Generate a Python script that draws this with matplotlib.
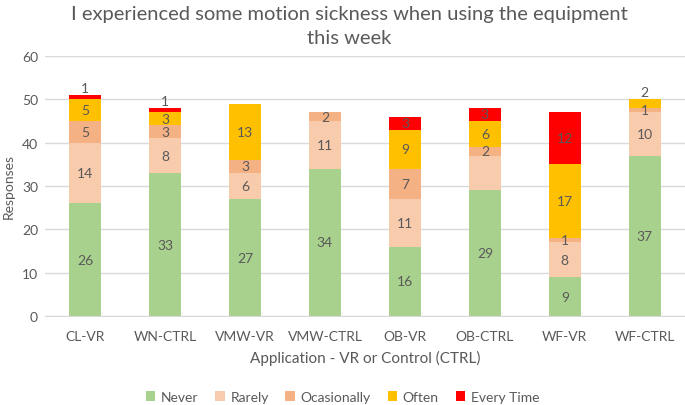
from matplotlib import pyplot as plt
import numpy as np

plt.rcParams['font.family'] = ['Lato', 'DejaVu Sans']

apps = ["CL-VR", "WN-CTRL", "VMW-VR", "VMW-CTRL", "OB-VR", "OB-CTRL", "WF-VR", "WF-CTRL"]
never = [26, 33, 27, 34, 16, 29, 9, 37]
rarely = [14, 8, 6, 11, 11, 8, 8, 10]
ocasionally = [5, 3, 3, 2, 7, 2, 1, 1]
often = [5, 3, 13, 0, 9, 6, 17, 2]
every_time = [1, 1, 0, 0, 3, 3, 12, 0]

series = [("Never", never, "#A9D18E"),
          ("Rarely", rarely, "#F8CBAD"),
          ("Ocasionally", ocasionally, "#F4B183"),
          ("Often", often, "#FFC000"),
          ("Every Time", every_time, "#FF0000")]

txt = "#595959"
fig = plt.figure(figsize=(6.85, 4.06), dpi=100)
ax = fig.add_axes([0.0657, 0.219, 0.934, 0.641])

x = np.arange(len(apps))
bottom = np.zeros(len(apps))
for name, vals, col in series:
    vals = np.array(vals, dtype=float)
    ax.bar(x, vals, 0.4, bottom=bottom, color=col, label=name, zorder=2)
    for i, v in enumerate(vals):
        if v == 0:
            continue
        total = sum(s[1][i] for s in series)
        top = bottom[i] + v
        # small top segments get their label above the bar
        if v <= 2 and top == total and (name == "Every Time" or apps[i] == "WF-CTRL"):
            ax.text(i, top + 0.3, str(int(v)), ha='center', va='bottom', fontsize=10, color=txt)
        elif apps[i] == "OB-CTRL" and name == "Rarely":
            pass
        else:
            ax.text(i, bottom[i] + v / 2, str(int(v)), ha='center', va='center', fontsize=10, color=txt)
    bottom += vals

ax.set_ylim(0, 60)
ax.set_xlim(-0.5, len(apps) - 0.5)
ax.set_yticks(range(0, 61, 10))
ax.set_xticks(x)
ax.set_xticklabels(apps)
ax.yaxis.grid(True, color="#D9D9D9", linewidth=1, zorder=0)
for s in ["top", "right", "left"]:
    ax.spines[s].set_visible(False)
ax.spines["bottom"].set_color("#D9D9D9")
ax.tick_params(length=0, colors=txt, labelsize=10)
ax.tick_params(axis='y', pad=5)
ax.tick_params(axis='x', pad=10)
ax.set_ylabel("Responses", color=txt, fontsize=10)
ax.yaxis.set_label_coords(-0.047, 0.5)
ax.set_xlabel("Application - VR or Control (CTRL)", color=txt, fontsize=11, labelpad=6)
fig.text(0.51, 0.935, "I experienced some motion sickness when using the equipment\nthis week",
         color=txt, fontsize=14.5, ha='center', va='center', linespacing=1.45)
fig.legend(loc='center', ncol=5, frameon=False, fontsize=10, labelcolor=txt,
           handlelength=0.7, handleheight=0.7, handletextpad=0.4, columnspacing=1.2,
           bbox_to_anchor=(0.5, 0.02))
fig.savefig("out.png", dpi=100)
